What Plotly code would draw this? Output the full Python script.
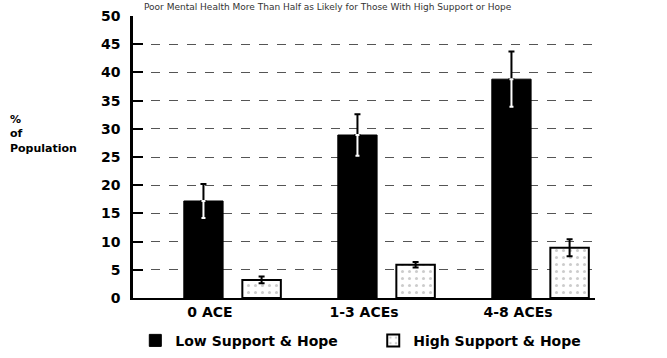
import plotly.graph_objects as go

categories = ["0 ACE", "1-3 ACEs", "4-8 ACEs"]
low_support = [17.2, 28.9, 38.8]
low_err = [3.0, 3.7, 4.9]
high_support = [3.2, 5.9, 8.9]
high_err = [0.6, 0.5, 1.5]
y_ticks = [0, 5, 10, 15, 20, 25, 30, 35, 40, 45, 50]
title_text = "Poor Mental Health More Than Half as Likely for Those With High Support or Hope"

FONT = "DejaVu Sans"

fig = go.Figure()

fig.add_trace(go.Bar(
    x=categories, y=low_support, name="Low Support & Hope", legend="legend",
    marker=dict(color="black", line=dict(color="black", width=1)),
    width=0.255, offset=-0.17,
    error_y=dict(type="data", array=low_err, arrayminus=[0, 0, 0], symmetric=False,
                 color="black", thickness=2, width=3),
))
# white lower halves of error bars inside black bars
fig.add_trace(go.Bar(
    x=categories, y=low_support, showlegend=False, hoverinfo="skip",
    marker=dict(color="rgba(0,0,0,0)", line=dict(width=0)),
    width=0.255, offset=-0.17,
    error_y=dict(type="data", array=[0, 0, 0], arrayminus=low_err, symmetric=False,
                 color="white", thickness=2, width=2),
))
fig.add_trace(go.Bar(
    x=categories, y=high_support, name="High Support & Hope", legend="legend2",
    marker=dict(color="white", line=dict(color="black", width=2),
                pattern=dict(shape=".", fgcolor="#9a9a9a", size=7, solidity=0.15)),
    width=0.25, offset=0.21,
    error_y=dict(type="data", array=high_err, color="black", thickness=2, width=3),
))

legend_font = dict(family=FONT, size=14, color="black", weight="bold")
fig.update_layout(
    width=667, height=358,
    margin=dict(l=133, r=72, t=16, b=60, autoexpand=False),
    paper_bgcolor="white", plot_bgcolor="white",
    barmode="overlay",
    font=dict(family=FONT, color="black"),
    showlegend=True,
    legend=dict(orientation="h", x=0.005, xanchor="left", y=-0.095, yanchor="top",
                font=legend_font, itemwidth=30, bgcolor="rgba(0,0,0,0)"),
    legend2=dict(orientation="h", x=0.52, xanchor="left", y=-0.095, yanchor="top",
                 font=legend_font, itemwidth=30, bgcolor="rgba(0,0,0,0)"),
    annotations=[
        dict(text=title_text, xref="paper", yref="paper", x=0.02, y=1.0, yshift=16,
             xanchor="left", yanchor="top", showarrow=False,
             font=dict(family=FONT, size=9, color="#333")),
        dict(text="%<br>of<br>Population", xref="paper", yref="paper", x=-0.27, y=0.58,
             xanchor="left", yanchor="middle", align="left", showarrow=False,
             font=dict(family=FONT, size=11, color="black", weight="bold")),
    ],
)

fig.update_xaxes(
    type="category", range=[-0.5, 2.5],
    showline=True, linecolor="black", linewidth=1.5,
    showgrid=False, ticks="",
    tickfont=dict(family=FONT, size=14, color="black", weight="bold"),
)
fig.update_yaxes(
    range=[0, 50], tickvals=y_ticks,
    showline=True, linecolor="black", linewidth=2.5,
    showgrid=True, gridcolor="#555555", griddash="dash", gridwidth=1,
    ticks="inside", ticklen=10, tickwidth=2, tickcolor="black",
    ticklabelstandoff=7,
    tickfont=dict(family=FONT, size=14, color="black", weight="bold"),
    zeroline=False,
)

fig.write_html("out.html", config={"displayModeBar": False},
               post_script="document.body.style.margin='0';")
